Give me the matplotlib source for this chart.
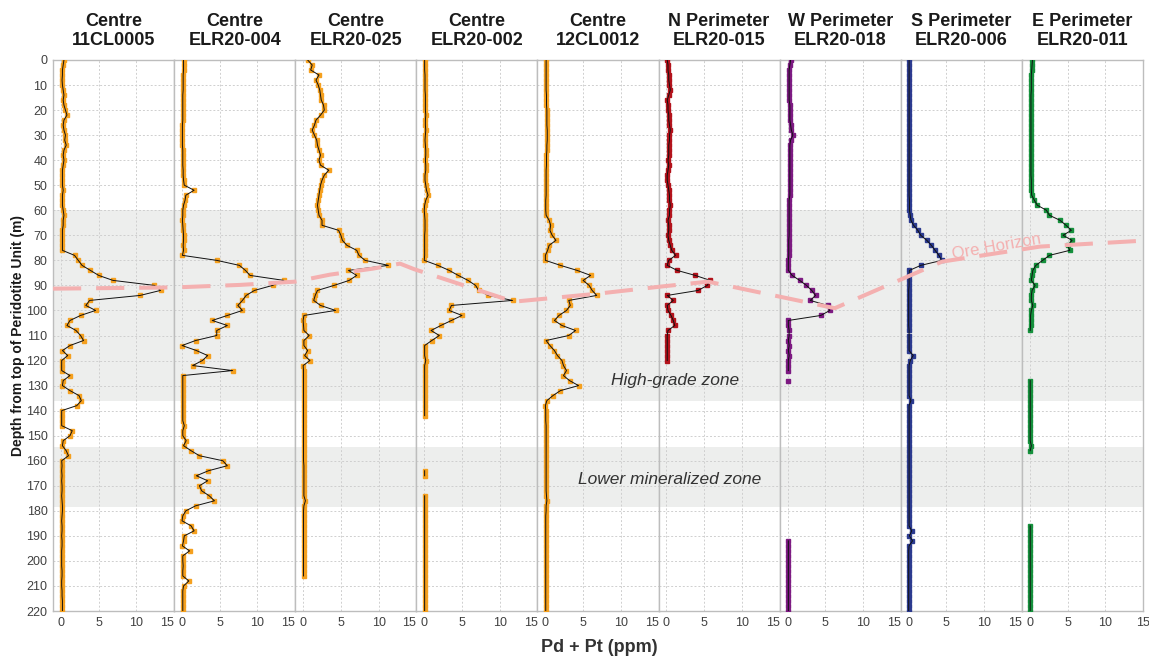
import numpy as np
import matplotlib
matplotlib.use('Agg')
import matplotlib.pyplot as plt

plt.rcParams['font.family'] = ['Liberation Sans', 'DejaVu Sans']

na = np.nan

# sample depth (m), shared by every hole
depth = [0, 2, 4, 6, 8, 10, 12, 14, 16, 18,
         20, 22, 24, 26, 28, 30, 32, 34, 36, 38,
         40, 42, 44, 46, 48, 50, 52, 54, 56, 58,
         60, 62, 64, 66, 68, 70, 72, 74, 76, 78,
         80, 82, 84, 86, 88, 90, 92, 94, 96, 98,
         100, 102, 104, 106, 108, 110, 112, 114, 116, 118,
         120, 122, 124, 126, 128, 130, 132, 134, 136, 138,
         140, 142, 144, 146, 148, 150, 152, 154, 156, 158,
         160, 162, 164, 166, 168, 170, 172, 174, 176, 178,
         180, 182, 184, 186, 188, 190, 192, 194, 196, 198,
         200, 202, 204, 206, 208, 210, 212, 214, 216, 218,
         220]

regions = ['Centre', 'Centre', 'Centre', 'Centre', 'Centre',
           'N Perimeter', 'W Perimeter', 'S Perimeter', 'E Perimeter']
holes = ['11CL0005', 'ELR20-004', 'ELR20-025', 'ELR20-002', '12CL0012',
         'ELR20-015', 'ELR20-018', 'ELR20-006', 'ELR20-011']
colors = ['#f5a01e', '#f5a01e', '#f5a01e', '#f5a01e', '#f5a01e',
          '#b3121b', '#7d1a82', '#2b3a8f', '#15903c']

# Pd + Pt (ppm)
cl0005 = [0.4, 0.3, 0.2, 0.2, 0.15, 0.2, 0.3, 0.4, 0.3, 0.4,
          0.6, 0.8, 0.4, 0.3, 0.4, 0.6, 0.5, 0.7, 0.4, 0.3,
          0.4, 0.3, 0.2, 0.2, 0.2, 0.2, 0.3, 0.2, 0.2, 0.2,
          0.3, 0.4, 0.3, 0.3, 0.2, 0.2, 0.2, 0.2, 0.2, 1.8,
          2.3, 2.8, 3.9, 5.0, 6.9, 12.4, 13.2, 10.5, 3.8, 3.3,
          4.6, 2.6, 1.2, 0.8, 2.0, 2.6, 3.0, 1.2, 0.2, 0.9,
          0.1, 0.1, 0.1, 1.2, 0.3, 0.2, 1.2, 2.4, 2.7, 2.1,
          0.1, 0.1, 0.1, 0.1, 1.5, 1.2, 0.3, 0.2, 0.7, 1.0,
          0.1, 0.15, 0.1, 0.15, 0.1, 0.15, 0.15, 0.1, 0.15, 0.2,
          0.2, 0.15, 0.1, 0.15, 0.15, 0.1, 0.15, 0.15, 0.1, 0.1,
          0.1, 0.1, 0.15, 0.15, 0.1, 0.1, 0.15, 0.15, 0.2, 0.2,
          0.2]
elr004 = [0.2, 0.2, 0.2, 0.15, 0.15, 0.15, 0.15, 0.1, 0.1, 0.1,
          0.1, 0.1, 0.1, 0.05, 0.05, 0.05, 0.05, 0.05, 0.1, 0.1,
          0.1, 0.1, 0.15, 0.15, 0.2, 0.3, 1.6, 0.5, 0.4, 0.2,
          0.1, 0.1, 0.05, 0.1, 0.15, 0.2, 0.2, 0.15, 0.2, 0.05,
          4.6, 7.6, 8.4, 9.0, 13.5, 12.0, 9.6, 8.5, 8.0, 7.4,
          8.0, 6.0, 4.0, 6.0, 4.6, 4.6, 1.8, 0.0, 1.9, 3.4,
          2.7, 1.4, 6.7, 0.1, 0.1, 0.1, 0.1, 0.1, 0.1, 0.1,
          0.1, 0.1, 0.1, 0.3, 0.1, 0.1, 0.55, 0.2, 1.2, 2.3,
          5.4, 6.0, 3.5, 1.9, 3.4, 2.3, 2.6, 3.6, 4.3, 1.8,
          0.5, 0.1, 0.0, 1.2, 1.6, 0.3, 0.2, 0.05, 1.0, 0.1,
          0.1, 0.15, 0.1, 0.1, 0.9, 0.2, 0.1, 0.1, 0.1, 0.1,
          0.1]
elr025 = [0.6, 1.2, 1.0, 2.1, 1.7, 2.0, 2.2, 2.3, 2.4, 2.7,
          2.8, 2.3, 1.7, 1.5, 1.2, 1.5, 1.8, 1.9, 2.1, 2.3,
          2.1, 2.3, 3.4, 2.8, 2.5, 2.3, 2.2, 2.1, 2.0, 1.9,
          2.0, 2.1, 2.5, 2.5, 4.7, 5.0, 5.2, 5.8, 7.1, 7.4,
          8.2, 11.3, 6.0, 7.1, 6.1, 4.1, 1.9, 1.6, 1.4, 2.3,
          4.3, 0.1, 0.0, 0.05, 0.1, 0.8, 0.1, 0.1, 0.6, 0.2,
          0.9, 0.0, 0.05, 0.05, 0.05, 0.05, 0.05, 0.05, 0.05, 0.05,
          0.05, 0.05, 0.05, 0.05, 0.05, 0.05, 0.05, 0.05, 0.05, 0.05,
          0.05, 0.1, 0.1, 0.1, 0.1, 0.1, 0.1, 0.1, 0.3, 0.1,
          0.05, 0.05, 0.05, 0.05, 0.05, 0.05, 0.05, 0.05, 0.05, 0.05,
          0.05, 0.05, 0.05, 0.05, na, na, na, na, na, na,
          na]
elr002 = [0.05, 0.05, 0.05, 0.1, 0.1, 0.1, 0.1, 0.15, 0.15, 0.15,
          0.15, 0.2, 0.15, 0.15, 0.2, 0.15, 0.1, 0.15, 0.2, 0.2,
          0.15, 0.2, 0.2, 0.1, 0.1, 0.2, 0.3, 0.5, 0.2, 0.05,
          0.0, 0.05, 0.1, 0.1, 0.1, 0.05, 0.05, 0.05, 0.05, 0.05,
          0.0, 1.8, 3.3, 4.5, 5.8, 6.8, 7.2, 8.5, 11.7, 3.6,
          3.3, 5.0, 3.6, 2.2, 0.9, 2.0, 1.0, 0.05, 0.05, 0.05,
          0.2, 0.05, 0.05, 0.05, 0.05, 0.05, 0.05, 0.05, 0.05, 0.05,
          0.05, 0.05, na, na, na, na, na, na, na, na,
          na, na, 0.05, 0.05, na, na, na, 0.05, 0.05, 0.05,
          0.05, 0.05, 0.05, 0.05, 0.05, 0.05, 0.05, 0.05, 0.05, 0.05,
          0.05, 0.05, 0.05, 0.05, 0.05, 0.05, 0.05, 0.05, 0.05, 0.05,
          0.05]
cl0012 = [0.1, 0.1, 0.1, 0.1, 0.1, 0.1, 0.1, 0.15, 0.15, 0.15,
          0.2, 0.2, 0.2, 0.2, 0.25, 0.25, 0.25, 0.2, 0.2, 0.15,
          0.15, 0.15, 0.1, 0.1, 0.1, 0.1, 0.1, 0.1, 0.05, 0.05,
          0.05, 0.1, 0.5, 0.7, 0.6, 0.9, 1.4, 0.5, 0.3, 0.0,
          0.0, 2.0, 4.2, 6.0, 5.0, 5.8, 6.2, 6.8, 3.1, 3.3,
          2.8, 1.8, 1.2, 2.2, 4.0, 3.1, 0.1, 0.6, 1.2, 1.6,
          2.2, 2.4, 2.8, 2.4, 3.2, 4.4, 2.0, 1.0, 0.2, 0.0,
          0.05, 0.05, 0.05, 0.1, 0.1, 0.1, 0.1, 0.1, 0.1, 0.1,
          0.1, 0.1, 0.1, 0.1, 0.1, 0.1, 0.1, 0.15, 0.2, 0.1,
          0.1, 0.05, 0.05, 0.05, 0.05, 0.05, 0.05, 0.05, 0.05, 0.05,
          0.05, 0.05, 0.05, 0.05, 0.05, 0.05, 0.05, 0.05, 0.05, 0.05,
          0.05]
elr015 = [0.1, 0.2, 0.2, 0.3, 0.3, 0.4, 0.5, 0.3, 0.1, 0.2,
          0.2, 0.3, 0.3, 0.4, 0.5, 0.4, 0.4, 0.3, 0.3, 0.3,
          0.2, 0.3, 0.2, 0.1, 0.1, 0.2, 0.3, 0.4, 0.4, 0.5,
          0.4, 0.4, 0.2, 0.3, 0.3, 0.2, 0.3, 0.5, 0.7, 1.2,
          0.3, 0.1, 1.4, 3.8, 5.8, 5.4, 4.2, 0.1, 0.9, 0.1,
          0.2, 0.6, 0.9, 1.1, 0.2, 0.1, 0.1, 0.1, 0.1, 0.1,
          0.1, na, na, na, na, na, na, na, na, na,
          na, na, na, na, na, na, na, na, na, na,
          na, na, na, na, na, na, na, na, na, na,
          na, na, na, na, na, na, na, na, na, na,
          na, na, na, na, na, na, na, na, na, na,
          na]
elr018 = [0.4, 0.3, 0.2, 0.2, 0.2, 0.2, 0.2, 0.2, 0.2, 0.3,
          0.3, 0.3, 0.3, 0.4, 0.5, 0.7, 0.4, 0.3, 0.3, 0.3,
          0.3, 0.3, 0.3, 0.3, 0.3, 0.3, 0.3, 0.3, 0.2, 0.2,
          0.2, 0.2, 0.2, 0.2, 0.2, 0.2, 0.15, 0.15, 0.15, 0.15,
          0.1, 0.1, 0.1, 0.6, 1.6, 2.5, 3.2, 3.7, 3.0, 5.3,
          5.6, 4.4, 0.1, 0.1, 0.2, 0.2, 0.1, 0.2, 0.1, 0.2,
          0.1, 0.1, 0.1, na, 0.1, na, na, na, na, na,
          na, na, na, na, na, na, na, na, na, na,
          na, na, na, na, na, na, na, na, na, na,
          na, na, na, na, na, na, 0.1, 0.1, 0.1, 0.1,
          0.1, 0.1, 0.1, 0.1, 0.1, 0.1, 0.1, 0.1, 0.1, 0.1,
          0.1]
elr006 = [0.05, 0.05, 0.05, 0.05, 0.05, 0.05, 0.05, 0.05, 0.05, 0.05,
          0.05, 0.05, 0.05, 0.05, 0.05, 0.05, 0.05, 0.05, 0.05, 0.05,
          0.05, 0.05, 0.05, 0.05, 0.05, 0.05, 0.05, 0.05, 0.1, 0.1,
          0.1, 0.2, 0.3, 0.65, 1.2, 1.6, 2.4, 3.0, 3.5, 4.0,
          4.4, 1.6, 0.1, 0.05, 0.05, 0.05, 0.0, 0.0, 0.0, 0.0,
          0.0, 0.0, 0.0, 0.0, 0.05, 0.05, 0.05, 0.05, 0.05, 0.6,
          0.2, 0.05, 0.05, 0.05, 0.05, 0.05, 0.05, 0.05, 0.3, 0.05,
          0.05, 0.05, 0.05, 0.05, 0.05, 0.05, 0.05, 0.05, 0.05, 0.05,
          0.05, 0.05, 0.05, 0.05, 0.05, 0.05, 0.05, 0.05, 0.05, 0.05,
          0.05, 0.05, 0.05, 0.05, 0.4, 0.1, 0.5, 0.05, 0.0, 0.0,
          0.0, 0.0, 0.0, 0.0, 0.0, 0.0, 0.0, 0.0, 0.0, 0.0,
          0.0]
elr011 = [0.35, 0.3, 0.25, 0.2, 0.2, 0.2, 0.2, 0.15, 0.15, 0.15,
          0.15, 0.15, 0.15, 0.15, 0.15, 0.15, 0.15, 0.15, 0.15, 0.15,
          0.15, 0.15, 0.15, 0.15, 0.2, 0.2, 0.2, 0.25, 0.6, 1.0,
          2.2, 2.6, 4.0, 4.8, 5.5, 4.4, 5.6, 5.0, 5.3, 2.6,
          1.7, 0.8, 0.4, 0.3, 0.2, 0.7, 0.3, 0.2, 0.2, 0.4,
          0.2, 0.1, 0.1, 0.1, 0.05, na, na, na, na, na,
          na, na, na, na, 0.05, 0.05, 0.05, 0.05, 0.05, 0.05,
          0.05, 0.05, 0.05, 0.05, 0.05, 0.05, 0.05, 0.2, 0.05, na,
          na, na, na, na, na, na, na, na, na, na,
          na, na, na, 0.05, 0.05, 0.05, 0.05, 0.05, 0.05, 0.05,
          0.05, 0.05, 0.05, 0.05, 0.05, 0.05, 0.05, 0.05, 0.05, 0.05,
          0.05]
grades = [cl0005, elr004, elr025, elr002, cl0012, elr015, elr018, elr006, elr011]

# mineralized zones (depth from, depth to)
zones = [(60, 136), (154.5, 178.5)]

# Ore Horizon trace: (panel position 0-9, depth)
ore_u = [0.0, 1.007, 1.544, 1.998, 2.287, 2.642, 2.865, 2.981, 3.804,
         4.517, 5.012, 5.409, 6.455, 7.341, 8.15, 9.05]
ore_d = [91.3, 90.8, 89.8, 88.5, 85.7, 83.3, 81.3, 83.5, 96.5,
         93.2, 90.5, 88.5, 99.1, 80.5, 74.5, 72.0]

L, R, B, T = 53 / 1149, 1143 / 1149, 1 - 611 / 658, 1 - 60 / 658

fig, axes = plt.subplots(1, 9, sharey=True, figsize=(11.49, 6.58), dpi=100)
fig.subplots_adjust(left=L, right=R, bottom=B, top=T, wspace=0)

for i, ax in enumerate(axes):
    for z0, z1 in zones:
        ax.axhspan(z0, z1, color='#edeeed', zorder=0.2, lw=0)
    v = np.array(grades[i], dtype=float)
    ax.plot(v, depth, ls='none', marker='s', ms=3.5, mfc=colors[i],
            mec=colors[i], zorder=3)
    ax.plot(v, depth, color='#111111', lw=0.7, zorder=4)
    ax.set_xlim(-1.05, 15)
    ax.set_ylim(220, 0)
    ax.set_xticks([0, 5, 10, 15])
    ax.set_xticklabels(['0', '5', '10', '15'])
    if i < 8:
        ax.get_xticklabels()[-1].set_horizontalalignment('right')
    ax.set_yticks(range(0, 221, 10))
    ax.set_axisbelow(True)
    ax.grid(True, color='#cfcfcf', lw=0.7, ls=(0, (2, 2)))
    ax.tick_params(length=0, labelsize=9, labelcolor='#404040', pad=4)
    for s in ax.spines.values():
        s.set_color('#bdbdbd')
        s.set_linewidth(1.0)
    ax.set_title(regions[i] + '\n' + holes[i], fontsize=13, fontweight='bold',
                 color='#1a1a1a', pad=11, linespacing=1.12)

# overlay for the ore horizon and zone labels
ov = fig.add_axes([L, B, R - L, T - B])
ov.set_xlim(0, 9)
ov.set_ylim(220, 0)
ov.axis('off')
ov.plot(ore_u, ore_d, color='#f4b0b0', lw=2.9, dashes=(7, 3.7),
        solid_capstyle='butt', clip_on=False, zorder=10)
ov.text(7.787, 74.5, 'Ore Horizon', color='#f4b0b0', fontsize=12,
        rotation=10, ha='center', va='center')
ov.text(5.136, 128.1, 'High-grade zone', style='italic', fontsize=12.5,
        color='#333333', ha='center', va='center')
ov.text(5.095, 167.3, 'Lower mineralized zone', style='italic',
        fontsize=12.5, color='#333333', ha='center', va='center')

fig.text(18 / 1149, (B + T) / 2, 'Depth from top of Peridotite Unit (m)',
         rotation=90, fontsize=10, fontweight='bold', color='#1a1a1a',
         ha='center', va='center')
fig.text(599 / 1149, 1 - 648 / 658, 'Pd + Pt (ppm)', fontsize=13,
         fontweight='bold', color='#333333', ha='center', va='center')

fig.savefig('out.png', dpi=100)
